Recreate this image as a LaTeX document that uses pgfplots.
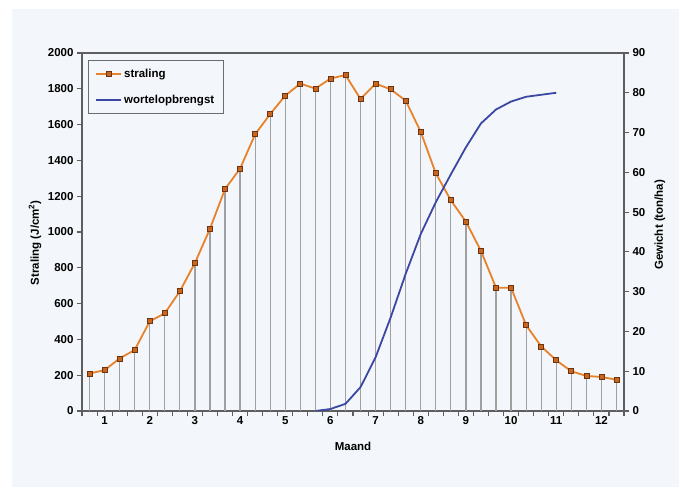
\documentclass[border=0pt]{standalone}
\usepackage{pgfplots}
\pgfplotsset{compat=1.18}
\usepackage{pgfplotstable}
\usepackage{fontspec}
\setmainfont{Liberation Sans}

\definecolor{panel}{HTML}{F3F6FA}
\definecolor{oranje}{HTML}{E8822A}
\definecolor{markfill}{HTML}{C8661E}
\definecolor{markrand}{HTML}{6E3410}
\definecolor{blauw}{HTML}{3B48A3}
\definecolor{asgrijs}{HTML}{5E5E5E}
\definecolor{droplijn}{HTML}{A0A0A0}

% decade (1..36), straling in J/cm2
\pgfplotstableread{
dec straling
1 210
2 228
3 294
4 341
5 501
6 546
7 669
8 827
9 1018
10 1240
11 1354
12 1546
13 1659
14 1762
15 1829
16 1801
17 1857
18 1877
19 1743
20 1829
21 1797
22 1734
23 1559
24 1328
25 1177
26 1058
27 894
28 689
29 689
30 479
31 361
32 283
33 222
34 196
35 190
36 175
}\straling

% decade, wortelopbrengst in ton/ha
\pgfplotstableread{
dec gewicht
16 0
17 0.5
18 1.8
19 6
20 13.5
21 23.5
22 34.5
23 44.5
24 52.5
25 59.5
26 66.3
27 72.3
28 75.8
29 77.8
30 79
31 79.5
32 80
}\wortel

\pgfplotsset{
  basis/.style={
    at={(82bp,78bp)}, anchor=south west,
    scale only axis, width=542bp, height=358bp,
    xmin=0.5, xmax=36.5,
    font=\fontsize{11.5bp}{13bp}\selectfont\bfseries,
    tick label style={font=\fontsize{11.5bp}{13bp}\selectfont\bfseries},
    /pgf/number format/assume math mode=true,
    /pgf/number format/1000 sep={},
    tick align=outside,
    major tick length=5bp,
    tick style={asgrijs, line width=1.1bp},
    axis line style={asgrijs, line width=1.3bp},
  },
}

\begin{document}
\begin{tikzpicture}
\fill[white] (0,0) rectangle (680bp,489bp);
\fill[panel] (12bp,2bp) rectangle (679bp,480bp);

\begin{axis}[
  basis,
  ymin=0, ymax=2000,
  ytick={0,200,...,2000},
  ytick pos=left,
  xtick={0.5,1.5,...,36.5},
  xticklabels={},
  xtick pos=bottom,
  extra x ticks={2,5,...,35},
  extra x tick labels={1,2,3,4,5,6,7,8,9,10,11,12},
  extra x tick style={major tick length=0pt, tick label style={yshift=-2bp}},
  ylabel={Straling (J/cm\textsuperscript{2})},
  ylabel style={at={(axis description cs:-0.0867,0.47)}, anchor=center},
  xlabel={Maand},
  xlabel style={at={(axis description cs:0.5,-0.098)}, anchor=center},
  legend style={
    at={(0.011,0.981)}, anchor=north west,
    draw=gray!85!black, fill=panel, line width=0.8bp,
    font=\fontsize{11.5bp}{13bp}\selectfont\bfseries,
    inner xsep=7bp, inner ysep=7bp, row sep=12bp,
  },
  legend cell align=left,
  legend image code/.code={
    \draw[#1, mark repeat=2, mark phase=2]
      plot coordinates {(0bp,0bp) (12.5bp,0bp) (25bp,0bp)};
  },
]
\addplot[ycomb, droplijn, line width=1.2bp, forget plot] table[x=dec, y=straling] {\straling};
\addplot[oranje, line width=1.8bp, mark=square*,
  mark size=2.5bp, mark options={fill=markfill, draw=markrand, line width=0.7bp}]
  table[x=dec, y=straling] {\straling};
\addlegendentry{straling}
\addlegendimage{blauw, line width=1.8bp}
\addlegendentry{wortelopbrengst}
\end{axis}

\begin{axis}[
  basis,
  ymin=0, ymax=90,
  ytick={0,10,...,90},
  axis y line*=right,
  axis x line=none,
  ylabel={Gewicht (ton/ha)},
  ylabel style={at={(axis description cs:1.0664,0.52)}, anchor=center, rotate=0},
]
\addplot[blauw, line width=1.8bp] table[x=dec, y=gewicht] {\wortel};
\end{axis}

\pgfresetboundingbox
\path[use as bounding box] (0,0) rectangle (680bp,489bp);
\end{tikzpicture}
\end{document}
